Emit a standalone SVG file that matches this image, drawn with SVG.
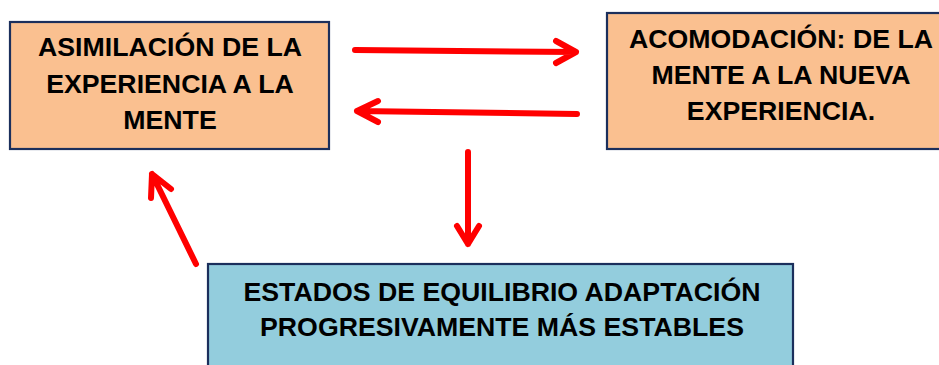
<svg xmlns="http://www.w3.org/2000/svg" width="939" height="365" viewBox="0 0 939 365">
<style>
.box{stroke:#1b2f5c;stroke-width:2.2}
.orange{fill:#fac090}
.blue{fill:#93cddd}
text{font-family:"Liberation Sans",Arial,sans-serif;font-weight:bold;font-size:26.7px;fill:#000;text-anchor:middle}
.arr{fill:none;stroke:#ff0000;stroke-width:6;stroke-linecap:round;stroke-linejoin:round}
</style>
<rect width="939" height="365" fill="#fff"/>
<g id="asimilacion">
<rect class="box orange" x="10" y="22" width="319" height="127"/>
<text x="170" y="56">ASIMILACIÓN DE LA</text>
<text x="170" y="93">EXPERIENCIA A LA</text>
<text x="170" y="129">MENTE</text>
</g>
<g id="acomodacion">
<rect class="box orange" x="607" y="13" width="345" height="136"/>
<text x="781" y="48">ACOMODACIÓN: DE LA</text>
<text x="781" y="84">MENTE A LA NUEVA</text>
<text x="781" y="120">EXPERIENCIA.</text>
</g>
<g id="estados">
<rect class="box blue" x="208" y="264" width="585" height="120"/>
<text x="502" y="301">ESTADOS DE EQUILIBRIO ADAPTACIÓN</text>
<text x="502" y="336">PROGRESIVAMENTE MÁS ESTABLES</text>
</g>
<g id="connectors">
<path class="arr" d="M355 50 L576 52 M556 41 L576 52 L556 63"/>
<path class="arr" d="M577 114 L357 111 M378 101 L357 111 L378 122"/>
<path class="arr" d="M468 152 L468 244 M457 226 L468 244 L479 226"/>
<path class="arr" d="M196 264 L152 174 M151 198 L152 174 L171 189"/>
</g>
</svg>
